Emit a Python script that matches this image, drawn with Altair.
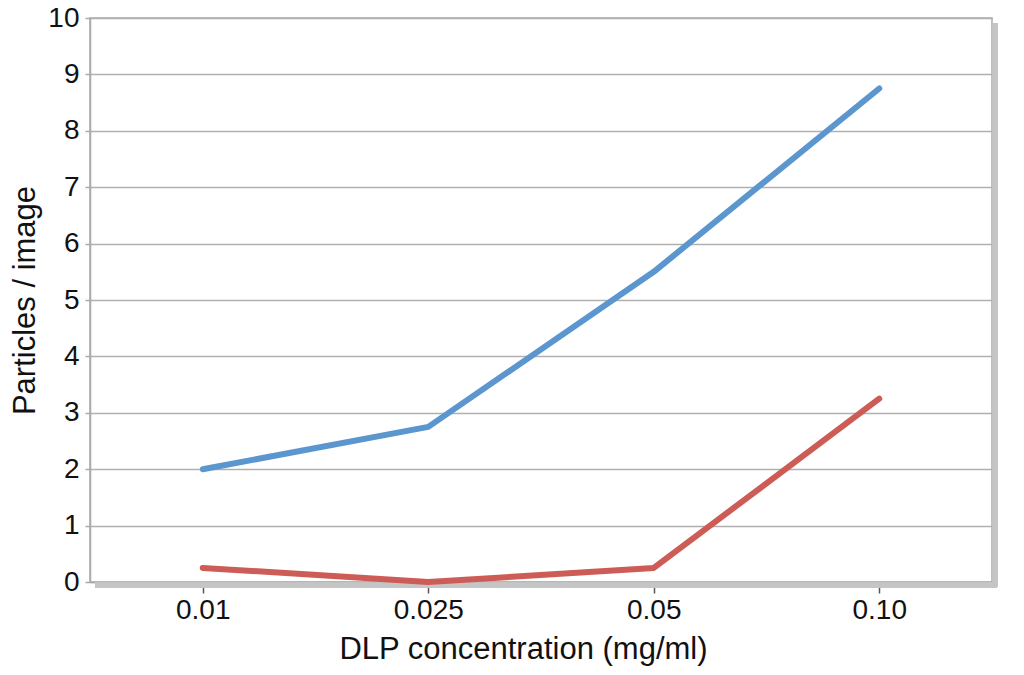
import altair as alt
import pandas as pd

categories = ["0.01", "0.025", "0.05", "0.10"]
series_a = [2.0, 2.75, 5.5, 8.75]
series_b = [0.25, 0.0, 0.25, 3.25]
series_names = ["A", "B"]
colors = ["#5B96CE", "#CC5C55"]

rows = []
for name, vals in zip(series_names, [series_a, series_b]):
    for c, v in zip(categories, vals):
        rows.append({"conc": c, "series": name, "value": v})
df = pd.DataFrame(rows)

W, H = 902, 564
FONT = "Liberation Sans"

x_enc = alt.X("conc:N", sort=categories,
              scale=alt.Scale(type="point", padding=0.5),
              axis=alt.Axis(title="DLP concentration (mg/ml)", labelAngle=0,
                            labelFontSize=28, titleFontSize=31, labelFont=FONT, titleFont=FONT,
                            labelColor="#111", titleColor="#111", titleFontWeight="normal",
                            domainColor="#aaaaaa", domainWidth=1.5,
                            tickColor="#555555", tickSize=11, tickWidth=1.5,
                            labelPadding=3, titlePadding=10, titleX=433, grid=False))
y_enc = alt.Y("value:Q", scale=alt.Scale(domain=[0, 10], nice=False),
              axis=alt.Axis(title="Particles / image", values=list(range(0, 11)),
                            labelFontSize=28, titleFontSize=31, labelFont=FONT, titleFont=FONT,
                            labelColor="#111", titleColor="#111", titleFontWeight="normal",
                            domainColor="#aaaaaa", domainWidth=1.5,
                            tickColor="#aaaaaa", tickSize=5, tickWidth=1.5,
                            labelPadding=6, titlePadding=6,
                            grid=True, gridColor="#b0b0b0", gridWidth=1.5))

lines = alt.Chart(df).mark_line(strokeWidth=6, strokeCap="round", strokeJoin="round").encode(
    x=x_enc, y=y_enc,
    color=alt.Color("series:N", scale=alt.Scale(domain=series_names, range=colors), legend=None),
)

shadow_right = alt.Chart(df).mark_rule(color="#c4c4c4", strokeWidth=5, opacity=0.7).encode(
    x=alt.value(W + 3), y=alt.value(5), y2=alt.value(H + 5))
shadow_bottom = alt.Chart(df).mark_rule(color="#c4c4c4", strokeWidth=5, opacity=0.7).encode(
    x=alt.value(5), x2=alt.value(W + 5), y=alt.value(H + 3))

chart = alt.layer(shadow_right, shadow_bottom, lines).properties(
    width=W, height=H,
    autosize=alt.AutoSizeParams(type="none"),
    padding={"left": 82, "top": 10, "right": 24, "bottom": 85},
).configure_view(stroke="#aaaaaa", strokeWidth=1.5)

chart.save("out.html", embed_options={"renderer": "svg", "actions": False})
